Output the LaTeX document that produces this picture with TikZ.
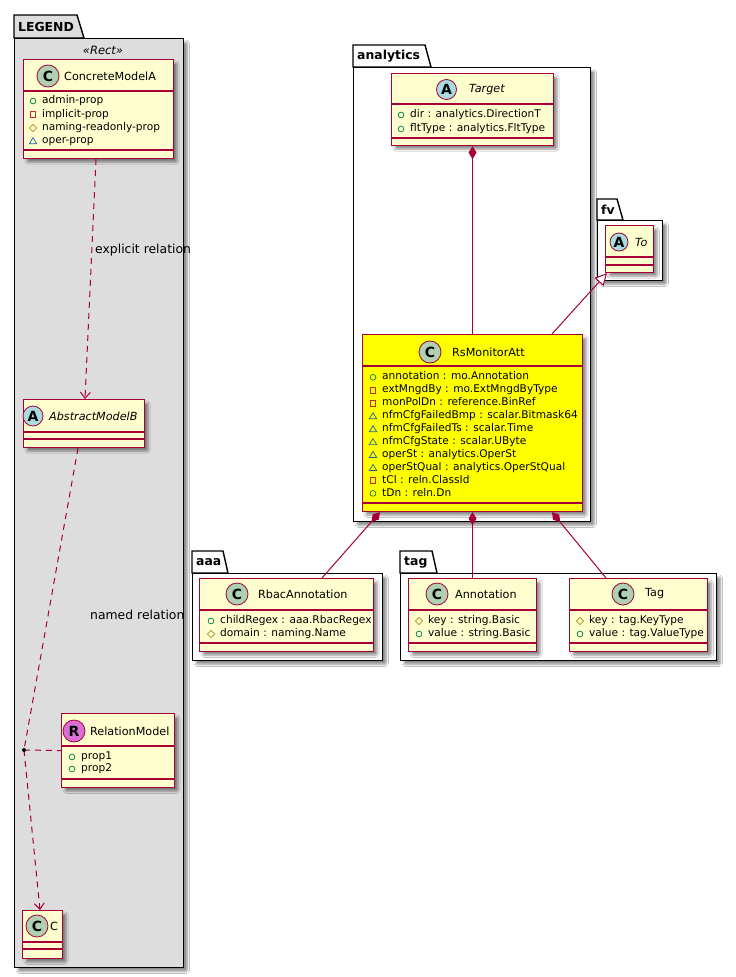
\documentclass[tikz,border=0pt]{standalone}
\usepackage{fontspec}
\setmainfont{DejaVu Sans}
\usetikzlibrary{arrows.meta,shadows.blur,calc}
\definecolor{cfill}{HTML}{FEFECE}
\definecolor{cborder}{HTML}{A80036}
\definecolor{spotC}{HTML}{ADD1B2}
\definecolor{spotA}{HTML}{A9DCDF}
\definecolor{spotR}{HTML}{DA70D6}
\definecolor{legendgray}{HTML}{DDDDDD}
\definecolor{pubc}{HTML}{038048}
\definecolor{privc}{HTML}{C82930}
\definecolor{protc}{HTML}{B38D22}
\definecolor{pkgc}{HTML}{1963A0}
\definecolor{hiyellow}{HTML}{FFFF00}

\newcommand\iconpub[1]{\draw[draw=pubc, line width=0.7pt] #1 circle (2.9pt);}
\newcommand\iconpriv[1]{\draw[draw=privc, line width=0.7pt] #1 ++(-2.8pt,-2.8pt) rectangle ++(5.6pt,5.6pt);}
\newcommand\iconprot[1]{\draw[draw=protc, line width=0.7pt] #1 ++(-3.6pt,0pt) -- ++(3.6pt,3.6pt) -- ++(3.6pt,-3.6pt) -- ++(-3.6pt,-3.6pt) -- cycle;}
\newcommand\iconpkg[1]{\draw[draw=pkgc, line width=0.7pt] #1 ++(-3.7pt,-2.8pt) -- ++(7.4pt,0pt) -- ++(-3.7pt,6pt) -- cycle;}

\newcommand\classbox[8]{%
  \pgfmathsetmacro\cbw{#4-#2}\pgfmathsetmacro\cbh{#5-#3}%
  \node[classbox, fill=#8, minimum width=\cbw pt, minimum height=\cbh pt, anchor=north west] (#1) at (#2,#3) {};
  \draw[classline] (#2,#6) -- (#4,#6);
  \draw[classline] (#2,#7) -- (#4,#7);
}
\newcommand\attrrow[5]{%
  \node[attrtext] (#1) at (#3,#4) {#5};
  \csname icon#2\endcsname{(#3-9,#4)}%
}
\newcommand\pkgbox[9]{%
  % name, x1, ytab, xtabtop, xtabbot, ybody, x2, y2, label
  \pgfmathsetmacro\pbw{#7-#2}\pgfmathsetmacro\pbh{#8-#6}%
  \draw[pkgline, fill=white] (#2,#6) -- (#2,#3) -- (#4,#3) -- (#5,#6) -- cycle;
  \node[pkgbody, minimum width=\pbw pt, minimum height=\pbh pt, anchor=north west] (#1) at (#2,#6) {};
  \node[pkgname] (#1-name) at (#2+4,#3/2+#6/2) {#9};
}

\begin{document}
\begin{tikzpicture}[x=1pt,y=-1pt,
  shad/.style={blur shadow={shadow xshift=3.5pt, shadow yshift=-3.5pt, shadow blur steps=6, shadow blur extra rounding=1pt, shadow opacity=45}},
  classbox/.style={draw=cborder, line width=1.1pt, inner sep=0pt, shad},
  classline/.style={draw=cborder, line width=1.1pt},
  pkgline/.style={draw=black, line width=1.4pt},
  pkgbody/.style={draw=black, line width=1.4pt, fill=white, inner sep=0pt, shad},
  pkgname/.style={anchor=west, inner sep=0pt, font=\bfseries\fontsize{12.4}{14}\selectfont},
  spot/.style={circle, draw=cborder, line width=0.8pt, inner sep=0pt, minimum size=22pt,
    font=\bfseries\fontsize{14}{14}\selectfont},
  cname/.style={anchor=west, inner sep=0pt, font=\fontsize{11.2}{13}\selectfont},
  aname/.style={anchor=west, inner sep=0pt, font=\itshape\fontsize{11.2}{13}\selectfont},
  attrtext/.style={anchor=west, inner sep=0pt, text height=7.6pt, text depth=2.4pt,
    font=\fontsize{10.6}{12}\selectfont},
  rel/.style={draw=cborder, line width=1pt},
  dep/.style={rel, dash pattern=on 6pt off 5pt},
  deptip/.style={-{Straight Barb[length=6pt,width=10pt]}},
  comp/.style={rel, {Diamond[length=13pt,width=8pt,fill=cborder]}-},
  inh/.style={rel, -{Triangle[open,length=12pt,width=12pt,fill=white]}},
  rellabel/.style={anchor=west, inner sep=0pt, font=\fontsize{12.4}{14}\selectfont}
]
\fill[white] (0,0) rectangle (736,977);
\useasboundingbox (0,0) rectangle (736,977);

% ---------- packages ----------
\draw[pkgline, fill=legendgray] (14,38) -- (14,15) -- (77,15) -- (84,38) -- cycle;
\node[pkgbody, fill=legendgray, minimum width=169pt, minimum height=929pt, anchor=north west] (legend) at (14,38) {};
\node[pkgname] (legend-name) at (18,27) {LEGEND};
\node[inner sep=0pt, font=\itshape\fontsize{11.5}{13}\selectfont] (legend-st) at (103,50) {«Rect»};

\pkgbox{analytics}{353}{45}{425}{431}{67}{590}{521}{analytics}
\pkgbox{fv}{597}{199}{617}{623}{220}{662}{280}{fv}
\pkgbox{aaa}{192}{551}{223}{228}{573}{382}{660}{aaa}
\pkgbox{tagpkg}{400}{551}{432}{437}{573}{716}{660}{tag}

% ---------- legend classes ----------
\classbox{cma}{23}{59}{173}{158}{91}{150}{cfill}
\node[spot, fill=spotC] (cma-s) at (48,76) {C};
\node[cname] (cma-n) at (64,76) {ConcreteModelA};
\attrrow{cma-a1}{pub}{42}{101}{admin-prop}
\attrrow{cma-a2}{priv}{42}{114.5}{implicit-prop}
\attrrow{cma-a3}{prot}{42}{128}{naming-readonly-prop}
\attrrow{cma-a4}{pkg}{42}{141}{oper-prop}

\classbox{amb}{23}{399}{144}{447}{432}{439}{cfill}
\node[spot, fill=spotA, minimum size=20pt] (amb-s) at (33,416) {A};
\node[aname] (amb-n) at (49,416) {AbstractModelB};

\classbox{rel}{61}{713}{174}{787}{746}{779}{cfill}
\node[spot, fill=spotR] (rel-s) at (74,731) {R};
\node[cname] (rel-n) at (90,731) {RelationModel};
\attrrow{rel-a1}{pub}{81}{757}{prop1}
\attrrow{rel-a2}{pub}{81}{769}{prop2}

\classbox{cc}{22}{910}{62}{958}{942}{949}{cfill}
\node[spot, fill=spotC] (cc-s) at (37,926) {C};
\node[cname] (cc-n) at (50,926) {C};

% ---------- analytics ----------
\classbox{target}{391}{73}{553}{145}{104}{138}{cfill}
\node[spot, fill=spotA, minimum size=20pt] (target-s) at (446.5,89.5) {A};
\node[aname] (target-n) at (469,89.5) {Target};
\attrrow{target-a1}{pub}{410}{115}{dir : analytics.DirectionT}
\attrrow{target-a2}{pub}{410}{129}{fltType : analytics.FltType}

\classbox{rsm}{362}{334}{582}{511}{366}{503}{hiyellow}
\node[spot, fill=spotC] (rsm-s) at (430,352) {C};
\node[cname] (rsm-n) at (452,352) {RsMonitorAtt};
\attrrow{rsm-a1}{pub}{382}{377.3}{annotation : mo.Annotation}
\attrrow{rsm-a2}{priv}{382}{390.2}{extMngdBy : mo.ExtMngdByType}
\attrrow{rsm-a3}{priv}{382}{403.1}{monPolDn : reference.BinRef}
\attrrow{rsm-a4}{pkg}{382}{416}{nfmCfgFailedBmp : scalar.Bitmask64}
\attrrow{rsm-a5}{pkg}{382}{428.9}{nfmCfgFailedTs : scalar.Time}
\attrrow{rsm-a6}{pkg}{382}{441.8}{nfmCfgState : scalar.UByte}
\attrrow{rsm-a7}{pkg}{382}{454.7}{operSt : analytics.OperSt}
\attrrow{rsm-a8}{pkg}{382}{467.6}{operStQual : analytics.OperStQual}
\attrrow{rsm-a9}{priv}{382}{480.5}{tCl : reln.ClassId}
\attrrow{rsm-a10}{pub}{382}{493.4}{tDn : reln.Dn}

% ---------- fv ----------
\classbox{to}{605}{225}{653}{272}{257}{265}{cfill}
\node[spot, fill=spotA, minimum size=18pt] (to-s) at (619,242) {A};
\node[aname] (to-n) at (635,242) {To};

% ---------- aaa ----------
\classbox{rbac}{199}{578}{373}{651}{610}{643}{cfill}
\node[spot, fill=spotC] (rbac-s) at (237,594) {C};
\node[cname] (rbac-n) at (258,594) {RbacAnnotation};
\attrrow{rbac-a1}{pub}{220}{621}{childRegex : aaa.RbacRegex}
\attrrow{rbac-a2}{prot}{220}{634}{domain : naming.Name}

% ---------- tag ----------
\classbox{ann}{408}{578}{536}{651}{610}{643}{cfill}
\node[spot, fill=spotC] (ann-s) at (437,594) {C};
\node[cname] (ann-n) at (455,594) {Annotation};
\attrrow{ann-a1}{prot}{428}{621}{key : string.Basic}
\attrrow{ann-a2}{pub}{428}{634}{value : string.Basic}

\classbox{tag}{569}{578}{707}{651}{610}{643}{cfill}
\node[spot, fill=spotC] (tag-s) at (623,594) {C};
\node[cname] (tag-n) at (645,594) {Tag};
\attrrow{tag-a1}{prot}{589}{621}{key : tag.KeyType}
\attrrow{tag-a2}{pub}{589}{634}{value : tag.ValueType}

% ---------- connectors ----------
\coordinate (cma-out) at ($(cma.south west)+(73,0)$);
\coordinate (amb-in) at ($(amb.north west)+(62,0)$);
\coordinate (amb-out) at ($(amb.south west)+(55,0)$);
\coordinate (cc-in) at ($(cc.north west)+(18,0)$);
\coordinate (dot) at (24,750);
\draw[dep, deptip] (cma-out) -- (amb-in);
\draw[dep] (amb-out) -- (dot);
\draw[dep, deptip] (dot) -- (cc-in);
\draw[dep] (dot) -- (rel.west);
\fill[black] (dot) circle (2pt);

\coordinate (rsm-top-r) at ($(rsm.north west)+(190,0)$);
\coordinate (to-in) at ($(to.south west)+(2,0)$);
\coordinate (rsm-d1) at ($(rsm.south west)+(18,0)$);
\coordinate (rsm-d3) at ($(rsm.south west)+(190,0)$);
\coordinate (rbac-in) at ($(rbac.north west)+(123,0)$);
\coordinate (tag-in) at ($(tag.north west)+(37,0)$);
\draw[comp] (target.south) -- (rsm.north);
\draw[inh] (rsm-top-r) -- (to-in);
\draw[comp] (rsm-d1) -- (rbac-in);
\draw[comp] (rsm.south) -- (ann.north);
\draw[comp] (rsm-d3) -- (tag-in);

\node[rellabel] (lbl-explicit) at (95,250) {explicit relation};
\node[rellabel] (lbl-named) at (90,615) {named relation};
\end{tikzpicture}
\end{document}
